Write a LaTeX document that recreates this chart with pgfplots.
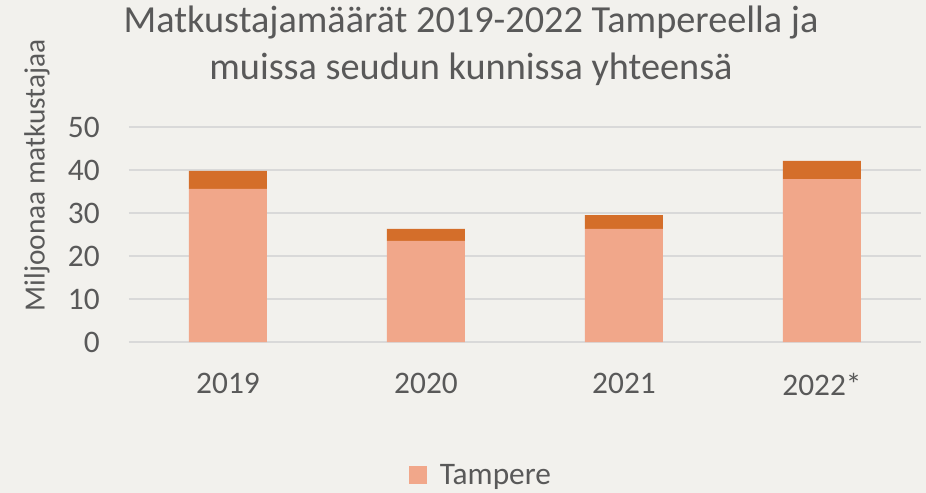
\documentclass[border=0pt]{standalone}
\usepackage{pgfplots}
\pgfplotsset{compat=1.18}
\usepackage{fontspec}
\setmainfont{Carlito}

\definecolor{bg}{HTML}{F2F1ED}
\definecolor{gridc}{HTML}{D9D9D9}
\definecolor{txt}{HTML}{595959}
\definecolor{tampere}{HTML}{F1A78A}
\definecolor{muut}{HTML}{D46E2A}

\begin{document}
\begin{tikzpicture}
% background, 1px = 0.75pt
\path[use as bounding box, fill=bg] (-96.75pt,-113.25pt) rectangle (597.75pt,256.5pt);

\begin{axis}[
    name=ax,
    at={(0,0)}, anchor=south west,
    scale only axis,
    width=594pt, height=161.25pt,
    ybar stacked,
    bar width=58.5pt,
    xmin=-0.5, xmax=3.5,
    ymin=0, ymax=50,
    xtick=data,
    xticklabels={2019,2020,2021,2022*},
    ytick={0,10,20,30,40,50},
    ymajorgrids,
    grid style={gridc, line width=1.3pt},
    axis line style={draw=none},
    major tick length=0pt,
    tick label style={font=\fontsize{23.5}{27}\selectfont, text=txt},
    yticklabel style={anchor=east, inner sep=0pt, xshift=-21.75pt},
    xticklabel style={anchor=north, inner sep=0pt, yshift=-23.25pt},
    /pgf/number format/assume math mode=true,
    legend style={at={(rel axis cs:0.3535,-0.62)}, anchor=west, draw=none, fill=none,
        font=\fontsize{23.5}{27}\selectfont, text=txt, inner sep=0pt,
        /tikz/every odd column/.style={column sep=7.5pt}},
    legend image code/.code={\fill[#1] (0pt,-6.75pt) rectangle (13.5pt,6.75pt);},
    clip=false,
]
\addplot[fill=tampere, draw=none] coordinates {(0,35.6) (1,23.5) (2,26.3) (3,37.9)};
\addlegendentry{Tampere}
\addplot[fill=muut, draw=none, forget plot] coordinates {(0,4.2) (1,2.8) (2,3.2) (3,4.2)};
\end{axis}

\node[font=\fontsize{28.7}{34}\selectfont, text=txt, anchor=base] at (256.5pt,231.75pt) {Matkustajamäärät 2019-2022 Tampereella ja};
\node[font=\fontsize{28.7}{34}\selectfont, text=txt, anchor=base] at (256.5pt,196.5pt) {muissa seudun kunnissa yhteensä};
\node[font=\fontsize{22}{26}\selectfont, text=txt, rotate=90] at (-69pt,125pt) {Miljoonaa matkustajaa};
\end{tikzpicture}
\end{document}
